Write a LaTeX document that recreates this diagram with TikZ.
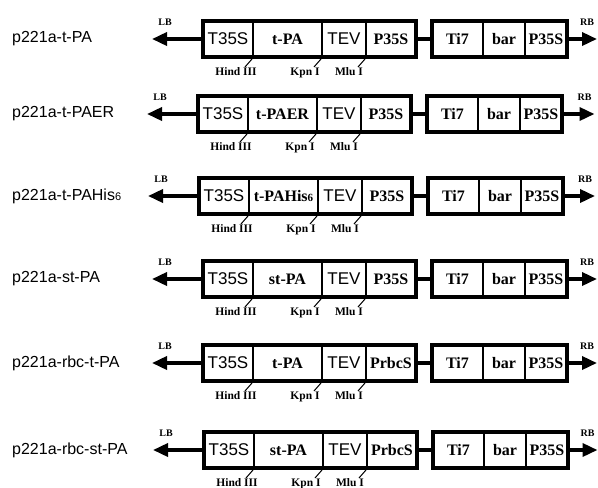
\documentclass[tikz,border=0pt]{standalone}
\usepackage{fontspec}
\setmainfont{Liberation Serif}
\setsansfont{Liberation Sans}
\usepackage{tikz}
\usetikzlibrary{arrows.meta, positioning}

\begin{document}
\begin{tikzpicture}[x=1pt, y=-1pt,
    cell/.style={draw, line width=2pt, minimum height=36pt, inner sep=0pt, outer sep=0pt,
      font=\bfseries\fontsize{16}{18}\selectfont},
    sfcell/.style={cell, font=\sffamily\fontsize{17}{19}\selectfont},
    frame/.style={line width=3.5pt},
    dna/.style={line width=3.5pt},
    tip/.style={-{Triangle[length=15pt,width=13pt]}},
    site/.style={line width=1pt},
    sitelab/.style={font=\bfseries\fontsize{11.5}{13}\selectfont, inner sep=0pt, anchor=north},
    endlab/.style={font=\bfseries\fontsize{10}{12}\selectfont, inner sep=0pt},
    rowlab/.style={font=\sffamily\fontsize{16}{18}\selectfont, anchor=west, inner sep=0pt}]

  \useasboundingbox (0,0) rectangle (598,488);

  \foreach \i/\y/\dx/\plasmid/\ins/\pro in {
      1/39/0/{p221a-t-PA}/{t-PA}/P35S,
      2/114/-5/{p221a-t-PAER}/{t-PAER}/P35S,
      3/196/-4/{p221a-t-PAHis{\fontsize{11}{12}\selectfont 6}}/{t-PAHis{\fontsize{11}{12}\selectfont 6}}/P35S,
      4/279/0/{p221a-st-PA}/{st-PA}/P35S,
      5/363/0/{p221a-rbc-t-PA}/{t-PA}/PrbcS,
      6/450/1/{p221a-rbc-st-PA}/{st-PA}/PrbcS}{
    % Plasmid name
    \node[rowlab] (name-\i) at (12,\y) {\plasmid};

    % Expression cassette
    \node[sfcell, minimum width=50pt, anchor=west] (t35s-\i) at (203+\dx,\y) {T35S};
    \node[cell, minimum width=69pt, right=0pt of t35s-\i] (ins-\i) {\ins};
    \node[sfcell, minimum width=44pt, right=0pt of ins-\i] (tev-\i) {TEV};
    \node[cell, minimum width=50pt, right=0pt of tev-\i] (pro-\i) {\pro};

    % Selection cassette
    \node[cell, minimum width=51pt, right=16pt of pro-\i] (ti7-\i) {Ti7};
    \node[cell, minimum width=42pt, right=0pt of ti7-\i] (bar-\i) {bar};
    \node[cell, minimum width=42pt, right=0pt of bar-\i] (p35s-\i) {P35S};

    % Borders
    \coordinate (lb-\i) at (152+\dx,\y);
    \coordinate (rb-\i) at (597+\dx/2,\y);
    \draw[dna, tip] (t35s-\i.west) -- (lb-\i);
    \draw[dna, tip] (p35s-\i.east) -- (rb-\i);
    \draw[dna] (pro-\i.east) -- (ti7-\i.west);
    \node[endlab] (lbt-\i) at ([shift={(13,-17)}]lb-\i) {LB};
    \node[endlab] (rbt-\i) at ([shift={(-10,-17)}]rb-\i) {RB};

    \draw[frame] (t35s-\i.north west) rectangle (pro-\i.south east);
    \draw[frame] (ti7-\i.north west) rectangle (p35s-\i.south east);

    % Restriction sites
    \draw[site] ([shift={(-1,2)}]ins-\i.south west) -- ++(-7,8)
      node[sitelab, xshift=-9pt] {Hind III};
    \draw[site] ([shift={(-1,2)}]tev-\i.south west) -- ++(-7,8)
      node[sitelab, xshift=-9pt] {Kpn I};
    \draw[site] ([shift={(-1,2)}]pro-\i.south west) -- ++(-7,8)
      node[sitelab, xshift=-9pt] {Mlu I};
  }
\end{tikzpicture}
\end{document}
